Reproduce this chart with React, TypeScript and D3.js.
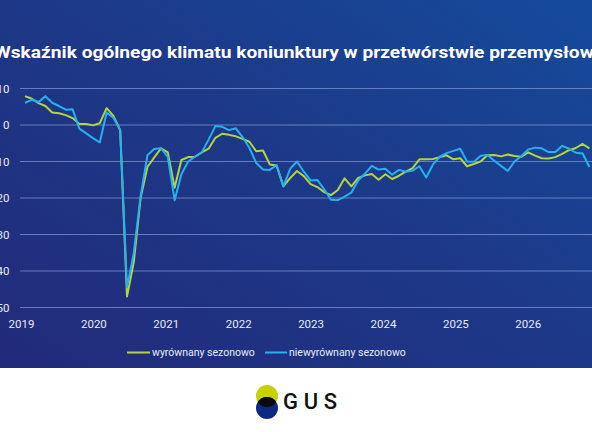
import React from "react";
import * as d3 from "d3";

const years = ["2019", "2020", "2021", "2022", "2023", "2024", "2025", "2026"];
const yTicks = [10, 0, -10, -20, -30, -40, -50];

// monthly values, Jan 2019 onward
const seasonallyAdjusted = [
  7.9, 7.2, 6.0, 5.2, 3.4, 3.2, 2.7, 1.9, 0.3, 0.3, -0.1, 0.5,
  4.6, 2.5, -1.4, -47.0, -37.5, -20.0, -11.5, -8.9, -6.4, -7.5, -17.2, -9.6,
  -8.8, -8.7, -7.5, -6.5, -3.5, -2.4, -2.7, -3.1, -3.8, -4.6, -7.2, -7.0,
  -10.8, -11.1, -16.8, -14.5, -12.6, -14.0, -16.2, -17.0, -18.4, -19.2, -17.8, -14.6,
  -16.8, -14.5, -13.8, -13.4, -15.0, -13.5, -14.8, -13.9, -12.8, -11.8, -9.4, -9.4,
  -9.3, -8.8, -8.3, -9.4, -9.1, -11.3, -10.7, -10.0, -8.3, -8.2, -8.6, -8.1,
  -8.5, -8.7, -7.5, -8.4, -9.1, -9.2, -8.8, -7.9, -6.9, -6.3, -5.2, -6.4,
];
const notAdjusted = [
  6.1, 6.9, 6.3, 7.9, 6.1, 5.2, 4.2, 4.3, -1.0, -2.3, -3.6, -4.8,
  3.4, 2.0, -1.4, -44.5, -35.0, -19.5, -8.3, -6.6, -6.4, -8.7, -20.6, -13.5,
  -10.0, -8.7, -7.5, -4.0, -0.3, -0.5, -1.4, -0.9, -3.3, -6.3, -10.4, -12.2,
  -12.3, -11.0, -16.8, -12.0, -10.0, -12.8, -15.2, -15.1, -17.6, -20.5, -20.6, -19.6,
  -18.5, -15.2, -13.3, -11.2, -12.2, -12.0, -13.6, -12.3, -12.8, -12.5, -11.3, -14.4,
  -10.8, -8.7, -7.7, -7.1, -6.5, -10.0, -10.1, -8.4, -8.2, -9.8, -11.2, -12.6,
  -10.0, -8.5, -6.7, -6.2, -6.4, -7.4, -7.4, -5.7, -6.5, -7.6, -7.8, -11.5,
];

const seriesNames = ["wyrównany sezonowo", "niewyrównany sezonowo"];
const title = "Wskaźnik ogólnego klimatu koniunktury w przetwórstwie przemysłowym";

const W = 592;
const H = 432;
const GREEN = "#b5d53e";
const BLUE = "#25b0f2";
const FONT = "Roboto, 'Noto Sans', sans-serif";

export default function App() {
  const n = seasonallyAdjusted.length;
  const x = d3.scaleLinear().domain([0, n - 1]).range([25, 25 + 6.8 * (n - 1)]);
  const y = d3.scaleLinear().domain([10, -50]).range([88.5, 307.5]);
  const yearX = d3.scaleLinear().domain([0, years.length - 1]).range([21.5, 21.5 + 72.4 * (years.length - 1)]);

  const line = d3
    .line<number>()
    .x((_, i) => x(i))
    .y((d) => y(d))
    .curve(d3.curveLinear);

  return (
    <svg
      width={W}
      height={H}
      viewBox={`0 0 ${W} ${H}`}
      style={{ position: "fixed", left: 0, top: 0, display: "block" }}
    >
      <defs>
        <linearGradient id="bg" x1="0" y1="1" x2="1" y2="0">
          <stop offset="0%" stopColor="#222a7a" />
          <stop offset="55%" stopColor="#1d3989" />
          <stop offset="100%" stopColor="#154b9c" />
        </linearGradient>
        <clipPath id="plot">
          <rect x={0} y={0} width={W} height={368} />
        </clipPath>
        <clipPath id="logoTop">
          <circle cx={267} cy={408} r={11} />
        </clipPath>
      </defs>
      <rect x={0} y={0} width={W} height={368} fill="url(#bg)" />
      <rect x={0} y={368} width={W} height={H - 368} fill="#ffffff" />

      <text
        x={-6}
        y={58}
        fontFamily={FONT}
        fontWeight={700}
        fontSize={17}
        fill="#ffffff"
        textLength={626}
        lengthAdjust="spacingAndGlyphs"
      >
        {title}
      </text>

      {yTicks.map((t) => (
        <g key={t}>
          <line x1={20} x2={W} y1={y(t)} y2={y(t)} stroke="#7f95d2" strokeOpacity={0.75} strokeWidth={1} />
          <text
            x={9.5}
            y={y(t) + 4}
            textAnchor="end"
            fontFamily={FONT}
            fontSize={11.5}
            fill="#e6ebf7"
          >
            {t}
          </text>
        </g>
      ))}

      {years.map((yr, i) => (
        <text
          key={yr}
          x={yearX(i)}
          y={328}
          textAnchor="middle"
          fontFamily={FONT}
          fontSize={11.5}
          fill="#e6ebf7"
        >
          {yr}
        </text>
      ))}

      <g clipPath="url(#plot)">
        <path d={line(seasonallyAdjusted) || ""} fill="none" stroke={GREEN} strokeWidth={2} strokeLinejoin="round" />
        <path d={line(notAdjusted) || ""} fill="none" stroke={BLUE} strokeWidth={2} strokeLinejoin="round" />
      </g>

      <g fontFamily={FONT} fontSize={10.5} fill="#e6ebf7">
        <line x1={127} x2={150} y1={352.5} y2={352.5} stroke={GREEN} strokeWidth={2} />
        <text x={152} y={356}>{seriesNames[0]}</text>
        <line x1={265} x2={287} y1={352.5} y2={352.5} stroke={BLUE} strokeWidth={2} />
        <text x={289} y={356}>{seriesNames[1]}</text>
      </g>

      <g>
        <circle cx={267} cy={396} r={11} fill="#c5d300" />
        <circle cx={267} cy={408} r={11} fill="#0d2a80" />
        <circle cx={267} cy={396} r={11} fill="#0a0a0a" clipPath="url(#logoTop)" />
        <text
          x={283}
          y={409}
          fontFamily={FONT}
          fontWeight={500}
          fontSize={22}
          fill="#111111"
          textLength={54}
          lengthAdjust="spacing"
        >
          GUS
        </text>
      </g>
    </svg>
  );
}
